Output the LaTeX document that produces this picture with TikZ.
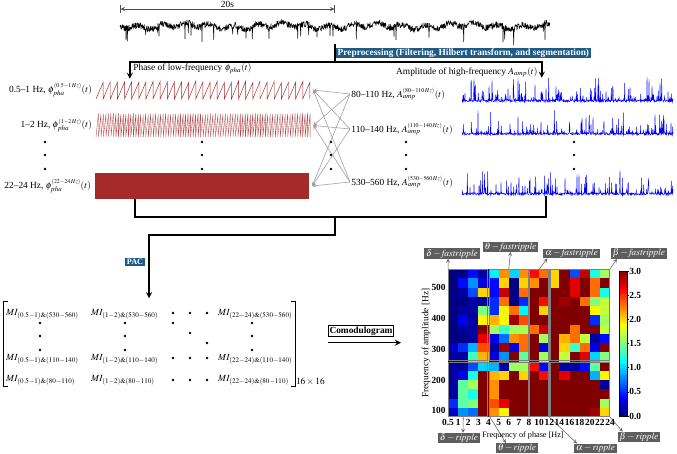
\documentclass[tikz,border=0pt]{standalone}
\usepackage{amsmath}
\usepackage{amssymb}
\usepackage{mathptmx}
\usepackage[no-math]{fontspec}
\setmainfont{Liberation Serif}
\usepackage{xcolor}
\usepackage{tikz}
\usetikzlibrary{arrows, positioning, calc, fit}
\definecolor{prepblue}{HTML}{1D5B87}
\definecolor{phasered}{HTML}{A52A2A}
\definecolor{labelgray}{HTML}{5E5E5E}
\tikzstyle{tag} = [rectangle, fill=prepblue, text=white, font=\scriptsize\bfseries, inner xsep=1.5pt, inner ysep=1pt]
\tikzstyle{band} = [font=\footnotesize, inner sep=1pt]
\tikzstyle{entry} = [font=\footnotesize, inner sep=0pt, anchor=west]
\tikzstyle{flow} = [line width=1.3pt]
\tikzstyle{arrow} = [line width=1.3pt,->,>=stealth]
\tikzstyle{link} = [draw=gray!75, line width=0.5pt, ->, >=stealth]
\tikzstyle{pointer} = [draw=gray!80!black, line width=0.5pt, ->, >=stealth]
\tikzstyle{bandtag} = [rectangle, fill=labelgray, text=white, font=\footnotesize, inner xsep=1.5pt, inner ysep=0.5pt]
\tikzstyle{region} = [rectangle, draw=gray, line width=1pt, inner sep=0pt]
\tikzstyle{dotmark} = [circle, fill=black, inner sep=0pt, minimum size=2.2pt]
\tikzstyle{ticklab} = [font=\footnotesize\bfseries, inner sep=1pt]

% jet colour of a value in [0,3]
\newcommand{\jetcell}[1]{%
  \pgfmathsetmacro\cv{(#1)/3}%
  \pgfmathsetmacro\cR{max(0,min(1,4*\cv-1.5,4.5-4*\cv))}%
  \pgfmathsetmacro\cG{max(0,min(1,4*\cv-0.5,3.5-4*\cv))}%
  \pgfmathsetmacro\cB{max(0,min(1,4*\cv+0.5,2.5-4*\cv))}%
  \definecolor{cellc}{rgb}{\cR,\cG,\cB}}
% band superscript
\newcommand{\bandsup}[1]{\scriptscriptstyle(#1\,Hz)}

\begin{document}
\begin{tikzpicture}[x=0.03cm, y=-0.03cm]
\useasboundingbox (0,0) rectangle (677,454);
\pgfmathsetseed{11}

% Raw signal
\draw[line width=0.45pt, line join=round] (120,27) \foreach \k in {1,...,1290} { -- ({120+\k/3},{26+2*sin(\k*5)+1.5*sin(\k*1.3)+3.2*rand+(rnd>0.965 ? 7+9*rnd : 0)}) };
\node (eeg) [fit={(120,18) (550,44)}, inner sep=0pt] {};
\coordinate (t0) at (120,9);
\coordinate (t20) at (335,9);
\draw[|<->|, >=stealth, black!70, line width=0.6pt] (t0) -- node[above, font=\footnotesize, inner sep=1pt, text=black] {20s} (t20);

% Preprocessing
\coordinate (split) at (335,62);
\draw[flow] (split |- eeg.south) -- (split);
\node (prep) [tag, font=\footnotesize\bfseries, inner ysep=0.5pt, above right=3pt and 0.6pt of split] {Preprocessing (Filtering, Hilbert transform, and segmentation)};

% Phase of low-frequency bands
\draw[phasered, line width=0.4pt] (96,99) \foreach \k in {1,...,30} { -- ({96+\k*7.13},{81+2*rnd}) -- ({96+\k*7.13},99) };
\node (ph1) [fit={(96,80) (310,100)}, inner sep=0pt] {};
\draw[phasered!85, line width=0.3pt] (96,137) \foreach \k in {1,...,86} { -- ({96+\k*2.49},{113+1.5*rnd}) -- ({96+\k*2.49},137) };
\node (ph2) [fit={(96,113) (310,138)}, inner sep=0pt] {};
\node (ph3) [fill=phasered, fit={(95,173) (309,199)}, inner sep=0pt] {};

\node (pl1) [band, left=2pt of ph1] {0.5--1 Hz, $\phi_{pha}^{\bandsup{0.5-1}}(t)$};
\node (pl2) [band, left=2pt of ph2] {1--2 Hz, $\phi_{pha}^{\bandsup{1-2}}(t)$};
\node (pl3) [band, left=2pt of ph3] {22--24 Hz, $\phi_{pha}^{\bandsup{22-24}}(t)$};

% Amplitude of high-frequency bands
\foreach \base/\nm in {102/amp1,135/amp2,195/amp3} {
  \draw[blue, line width=0.35pt] (462,\base) \foreach \k in {1,...,633} { -- ({462+\k/3},{\base-2.2*rnd-24*rnd^14}) };
  \node (\nm) [fit={(462,{\base-24}) (673,{\base+1})}, inner sep=0pt] {};
}
\node (al1) [band, anchor=west] at (350,94) {80--110 Hz, $A_{amp}^{\bandsup{80-110}}(t)$};
\node (al2) [band, anchor=west] at (350,129) {110--140 Hz, $A_{amp}^{\bandsup{110-140}}(t)$};
\node (al3) [band, anchor=west] at (350,182) {530--560 Hz, $A_{amp}^{\bandsup{530-560}}(t)$};

\node (phtitle) [band, anchor=west] at (132,69) {Phase of low-frequency $\phi_{pha}(t)$};
\node (amptitle) [band, anchor=east] at (539,72) {Amplitude of high-frequency $A_{amp}(t)$};
\draw[arrow] (split) -| ($(ph1.north west)+(34,-1)$);
\draw[arrow] (split) -| ($(amp1.north west)+(80,0)$);

% Band pairs
\foreach \a in {al1,al2,al3}
  \foreach \p in {ph1,ph2,ph3}
    \draw[link] (\a.west) -- ($(\p.east)+(3,0)$);

% Dots
\foreach \x in {45,202,331,406,574}
  \foreach \y in {142,155,169}
    \node[dotmark] at (\x,\y) {};

% MI matrix
\node (m11) [entry] at (6,314) {$MI_{(0.5-1)\&(530-560)}$};
\node (m12) [entry] at (91,314) {$MI_{(1-2)\&(530-560)}$};
\node (m13) [entry] at (218,314) {$MI_{(22-24)\&(530-560)}$};
\node (m21) [entry] at (6,359) {$MI_{(0.5-1)\&(110-140)}$};
\node (m22) [entry] at (91,359) {$MI_{(1-2)\&(110-140)}$};
\node (m23) [entry] at (218,359) {$MI_{(22-24)\&(110-140)}$};
\node (m31) [entry] at (6,380) {$MI_{(0.5-1)\&(80-110)}$};
\node (m32) [entry] at (91,380) {$MI_{(1-2)\&(80-110)}$};
\node (m33) [entry] at (218,380) {$MI_{(22-24)\&(80-110)}$};
\foreach \y in {313,358,380}
  \foreach \x in {173,190,207}
    \node[dotmark] at (\x,\y) {};
\foreach \x in {40,125,252}
  \foreach \y in {323,336,350}
    \node[dotmark] at (\x,\y) {};
\node[dotmark] at (173,323) {};
\node[dotmark] at (190,333) {};
\node[dotmark] at (207,343) {};
\node (mimat) [fit={(4,302) (295,386)}, inner sep=0pt] {};
\draw[line width=0.6pt] ($(mimat.north west)+(4,0)$) -- (mimat.north west) -- (mimat.south west) -- ++(4,0);
\draw[line width=0.6pt] ($(mimat.north east)+(-4,0)$) -- (mimat.north east) -- (mimat.south east) -- ++(-4,0);
\node[band, anchor=south west, inner sep=0.5pt] at (mimat.south east) {$16\times16$};

% PAC
\coordinate (merge) at (335,217);
\coordinate (pacbend) at (335,235);
\coordinate (pacx) at (149,235);
\draw[flow] ($(ph3.south west)+(40,0)$) |- (merge);
\draw[flow] ($(amp3.south west)+(84,0)$) |- (merge);
\draw[arrow, shorten >=3pt] (merge) -- (pacbend) -- (pacx) -- (pacx |- mimat.north);
\node (pac) [tag] at (135,262) {PAC};

% Comodulogram
\node (como) [draw, font=\footnotesize\bfseries, inner sep=1pt] at (361,331) {Comodulogram};
\draw[arrow] ($(como.south west)+(0,6)$) -- ($(como.south east)+(7,6)$);

\foreach \vals [count=\j from 0] in {
  {0,0,0.4,0.1,1.1,2.2,1.0,2.2,2.6,2.3,2.0,3,0.6,2.8,1.2,1.6},
  {0,0.4,0.8,0.3,0.4,2.0,0,2.0,2.2,3,2.0,3,2.7,3,2.3,3},
  {0,0.1,0.6,2.0,0.4,2.8,0,2.3,3,3,3,3,2.7,3,2.3,1.2},
  {0,0,0.1,0.1,0.5,2.3,0,0.5,3,2.6,3,2.9,3,2.3,1.5,1.7},
  {0,0.1,0.1,1.5,0.5,1.9,2.3,1.1,3,2.0,3,3,3,3,1.9,1.7},
  {0,0.3,0.1,1.9,2.1,1.9,2.9,2.4,3,3,3,3,3,3,0.5,1.6},
  {0,0.1,0.1,3,1.6,1.3,1.6,1.6,2.3,2.8,3,3,2.3,3,3,1.7},
  {0,0,0.1,2.7,0.3,0.7,2.2,2.3,3,1.6,3,2.1,2.3,1.7,0.1,0.4},
  {0.2,0.5,0.9,2.4,0.1,2.9,0.3,2.3,3,0.3,3,2.0,1.3,2.3,0.3,3},
  {0.1,0.1,1.3,2.1,0.3,0.8,3,1.4,3,1.6,3,1.7,3,2.7,1.0,1.5},
  {0.1,0.1,0.6,1.0,0.9,0.1,1.6,1.6,2.6,0.4,3,0.1,0.1,0.4,1.4,3},
  {0.1,0.3,1.2,3,2.1,2.0,3,2.0,3,2.6,3,2.7,3,3,0.9,1.9},
  {0.1,1.4,1.6,3,2.2,3,3,3,3,3,3,3,3,3,3,0.1},
  {0.1,1.4,1.2,3,2.2,3,3,3,3,3,3,3,3,3,3,3},
  {0.5,1.4,1.5,3,2.4,2.7,3,3,3,3,3,3,3,3,3,1.6},
  {0.2,0.8,0.7,3,2.2,1.9,3,3,3,3,3,3,3,3,2.9,2.0}} {
  \foreach \val [count=\i from 0] in \vals {
    \jetcell{\val}
    \fill[cellc] ({448+\i*10.125},{269+\j*9.25}) rectangle ++(10.2,9.3);
  }
}

% Rhythm regions
\node (dfast) [region, fit={(448.8,269.8) (487.7,360.7)}] {};
\node (tfast) [region, fit={(489.3,269.8) (528.2,360.7)}] {};
\node (afast) [region, fit={(529.8,269.8) (548.4,360.7)}] {};
\node (bfast) [region, fit={(550,269.8) (609.2,360.7)}] {};
\node (drip) [region, fit={(448.8,362.3) (487.7,416.2)}] {};
\node (trip) [region, fit={(489.3,362.3) (528.2,416.2)}] {};
\node (arip) [region, fit={(529.8,362.3) (548.4,416.2)}] {};
\node (brip) [region, fit={(550,362.3) (609.2,416.2)}] {};

\node (dfastlab) [bandtag] at (452,253.5) {$\delta-\mathit{fastripple}$};
\node (tfastlab) [bandtag] at (510.5,247) {$\theta-\mathit{fastripple}$};
\node (afastlab) [bandtag] at (571.5,253.5) {$\alpha-\mathit{fastripple}$};
\node (bfastlab) [bandtag] at (639,253.5) {$\beta-\mathit{fastripple}$};
\node (driplab) [bandtag] at (459,438) {$\delta-\mathit{ripple}$};
\node (triplab) [bandtag] at (517,448) {$\theta-\mathit{ripple}$};
\node (ariplab) [bandtag] at (595.5,448.5) {$\alpha-\mathit{ripple}$};
\node (briplab) [bandtag] at (639,437) {$\beta-\mathit{ripple}$};

\draw[pointer] (dfast.north west) -- ($(dfastlab.south)+(-4,0)$);
\draw[pointer] (tfast.north) -- (tfastlab.south);
\draw[pointer] (afast.north) -- ($(afastlab.south west)+(4,0)$);
\draw[pointer] (bfast.north east) -- ($(bfastlab.south west)+(6,0)$);
\draw[pointer] ($(drip.south)+(-5,0)$) -- ($(driplab.north)+(4,0)$);
\draw[pointer] ($(trip.south west)+(1,0)$) -- ($(triplab.north west)+(10,0)$);
\draw[pointer] (arip.south east) -- ($(ariplab.north west)+(3,0)$);
\draw[pointer] (brip.south east) -- ($(briplab.north west)+(5,0)$);

% Axes
\foreach \f in {100,200,300,400,500}
  \node[ticklab, anchor=east] at (447,{417-(\f-80)/30*9.25}) {\f};
\foreach \lab [count=\i from 0] in {0.5,1,2,3,4,5,6,7,8,10,12,14,16,18,20,22,24}
  \node[ticklab, anchor=north] at ({448+\i*10.125},418) {\lab};
\node[font=\footnotesize, rotate=90] at (426,343) {Frequency of amplitude [Hz]};
\node[font=\scriptsize] at (523,435) {Frequency of phase [Hz]};

% Colour bar
\foreach \s in {0,...,59} {
  \jetcell{(\s+0.5)/20}
  \fill[cellc] (619,{416-(\s+1)*145/60-0.05}) rectangle (627,{416-\s*145/60});
}
\draw[line width=0.4pt] (619,271) rectangle (627,416);
\foreach \v [count=\n from 0] in {0.0,0.5,1.0,1.5,2.0,2.5,3.0} {
  \draw[line width=0.4pt] (627,{416-\n*145/6}) -- ++(1.5,0);
  \node[ticklab, anchor=west] at (628,{416-\n*145/6}) {\v};
}

\end{tikzpicture}
\end{document}
